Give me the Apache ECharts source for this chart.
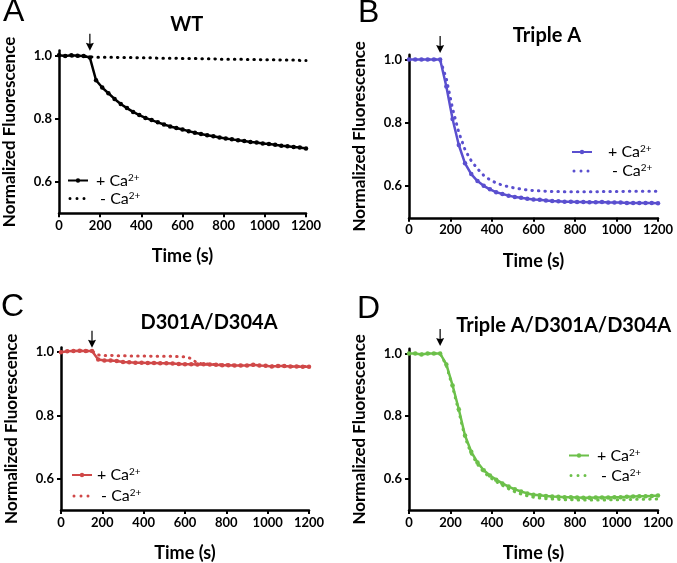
<!DOCTYPE html>
<html><head><meta charset="utf-8">
<script src="https://cdn.jsdelivr.net/npm/echarts@6/dist/echarts.min.js"></script>
<style>html,body{margin:0;padding:0;background:#fff}#c{width:677px;height:563px}</style>
</head><body><div id="c"></div>
<script>
const times = [0,30,60,90,120,150,180,210,240,270,300,330,360,390,420,450,480,510,540,570,600,630,660,690,720,750,780,810,840,870,900,930,960,990,1020,1050,1080,1110,1140,1170,1200];
const xTicks = [0,200,400,600,800,1000,1200];
const yTicks = [0.6,0.8,1.0];
const panelTitles = ['WT','Triple A','D301A/D304A','Triple A/D301A/D304A'];
const panelLetters = ['A','B','C','D'];

const wtPlus = [1.000,0.998,1.000,0.999,0.998,0.993,0.921,0.898,0.880,0.862,0.846,0.833,0.821,0.811,0.802,0.795,0.788,0.781,0.775,0.770,0.765,0.760,0.755,0.751,0.747,0.744,0.740,0.737,0.734,0.731,0.729,0.726,0.724,0.721,0.719,0.717,0.714,0.712,0.710,0.708,0.705];
const wtMinus = [1.000,0.999,0.998,0.998,0.997,0.995,0.994,0.994,0.994,0.994,0.993,0.993,0.993,0.992,0.992,0.992,0.991,0.991,0.991,0.991,0.990,0.990,0.990,0.989,0.989,0.989,0.988,0.988,0.988,0.988,0.987,0.987,0.987,0.986,0.986,0.986,0.985,0.985,0.985,0.984,0.984];
const triplePlus = [1.000,1.000,1.000,1.000,1.000,1.000,0.915,0.812,0.730,0.672,0.638,0.616,0.601,0.590,0.581,0.575,0.570,0.566,0.563,0.560,0.558,0.557,0.555,0.553,0.552,0.551,0.551,0.550,0.550,0.549,0.549,0.550,0.548,0.548,0.548,0.547,0.547,0.547,0.547,0.547,0.546];
const tripleMinus = [1.000,1.000,1.000,1.000,1.000,1.000,0.940,0.845,0.770,0.715,0.680,0.655,0.634,0.620,0.610,0.603,0.598,0.594,0.591,0.588,0.586,0.585,0.584,0.583,0.583,0.582,0.582,0.582,0.582,0.582,0.582,0.583,0.583,0.583,0.583,0.584,0.584,0.584,0.584,0.584,0.584];
const dPlus = [1.000,1.003,1.004,1.005,1.004,1.004,0.977,0.974,0.974,0.972,0.969,0.968,0.967,0.967,0.966,0.966,0.965,0.965,0.964,0.963,0.962,0.962,0.961,0.962,0.961,0.960,0.959,0.959,0.958,0.958,0.958,0.960,0.958,0.957,0.955,0.956,0.956,0.955,0.955,0.954,0.954];
const dMinus = [1.000,1.003,1.004,1.005,1.004,1.004,0.991,0.990,0.990,0.989,0.989,0.988,0.988,0.988,0.988,0.987,0.987,0.987,0.987,0.986,0.986,0.980,0.965,0.963,0.962,0.961,0.960,0.960,0.959,0.959,0.958,0.959,0.958,0.957,0.956,0.956,0.956,0.955,0.955,0.955,0.954];
const tdPlus = [1.000,1.000,0.997,1.000,1.000,1.000,0.965,0.898,0.822,0.738,0.686,0.652,0.627,0.610,0.597,0.585,0.575,0.566,0.559,0.553,0.549,0.547,0.545,0.543,0.542,0.541,0.541,0.540,0.539,0.539,0.540,0.540,0.540,0.541,0.541,0.542,0.543,0.544,0.544,0.545,0.546];
const tdMinus = [1.000,1.000,0.998,1.000,1.000,1.000,0.962,0.893,0.815,0.732,0.680,0.646,0.621,0.604,0.591,0.579,0.568,0.558,0.551,0.545,0.541,0.538,0.536,0.535,0.534,0.533,0.533,0.532,0.532,0.532,0.532,0.532,0.532,0.533,0.533,0.533,0.534,0.534,0.534,0.535,0.535];
const additionTime = 150;

const FONT = 'Lato, "Open Sans", sans-serif';
const layouts = [
  {grid:{left:59,top:50.6,width:247,height:162.7}, color:'#000000', title:[186.7,15], letter:[3,-4], legend:{left:68,top:172.5,gap:2,pad:3}, arrowOff:-13},
  {grid:{left:409,top:54.8,width:249,height:163}, color:'#5a4fcf', title:[547,26], letter:[358,-3], legend:{left:572,top:144,gap:3,pad:11}, arrowOff:-15},
  {grid:{left:61,top:347.5,width:248,height:164.8}, color:'#d04848', title:[209,313], letter:[1,291], legend:{left:72,top:467,gap:5,pad:0}, arrowOff:-13},
  {grid:{left:409,top:348.8,width:249,height:164.5}, color:'#6cc04a', title:[563.7,316], letter:[357,293], legend:{left:569,top:447.5,gap:4,pad:3}, arrowOff:-16}
];
const plusSets = [wtPlus, triplePlus, dPlus, tdPlus];
const minusSets = [wtMinus, tripleMinus, dMinus, tdMinus];
const arrowPath = 'path://M3.4,0 L4.6,0 L4.6,10 L8,9 L4,17 L0,9 L3.4,10 Z';
// legend icons: bounding corners (zero-area) + shapes
const plusIcon = 'path://M0,0 L0.01,0 L0,0.01 Z M20,8 L19.99,8 L20,7.99 Z M0,3.1 L20,3.1 L20,4.9 L0,4.9 Z M12.2,4 A2.2,2.2 0 1 1 7.8,4 A2.2,2.2 0 1 1 12.2,4 Z';
const minusIcon = 'path://M0,0 L0.01,0 L0,0.01 Z M20,8 L19.99,8 L20,7.99 Z M3.5,4 A1.5,1.5 0 1 1 0.5,4 A1.5,1.5 0 1 1 3.5,4 Z M10.5,4 A1.5,1.5 0 1 1 7.5,4 A1.5,1.5 0 1 1 10.5,4 Z M17.5,4 A1.5,1.5 0 1 1 14.5,4 A1.5,1.5 0 1 1 17.5,4 Z';

const grids=[], xAxes=[], yAxes=[], series=[], legends=[], titles=[], graphics=[];
layouts.forEach((L,i)=>{
  grids.push(Object.assign({containLabel:false}, L.grid));
  xAxes.push({type:'value', gridIndex:i, min:0, max:1200, interval:200,
    name:'Time (s)', nameLocation:'middle', nameGap:34,
    nameTextStyle:{fontFamily:FONT, fontWeight:'bold', fontSize:18, color:'#000'},
    axisLine:{show:true, onZero:false, lineStyle:{color:'#000', width:2.5}},
    axisTick:{show:true, length:4, lineStyle:{color:'#000', width:2}},
    axisLabel:{fontFamily:FONT, fontWeight:'bold', fontSize:13, color:'#000', margin:6, customValues:xTicks,
      formatter:v=>String(v)},
    splitLine:{show:false}});
  yAxes.push({type:'value', gridIndex:i, min:0.5, max:1.015,
    name:'Normalized Fluorescence', nameLocation:'middle', nameGap:41,
    nameTextStyle:{fontFamily:FONT, fontWeight:'bold', fontSize:17, color:'#000'},
    axisLine:{show:true, onZero:false, lineStyle:{color:'#000', width:2.5}},
    axisTick:{show:true, length:4, customValues:yTicks, lineStyle:{color:'#000', width:2}},
    axisLabel:{fontFamily:FONT, fontWeight:'bold', fontSize:13, color:'#000', margin:7, customValues:yTicks,
      formatter:v=>v.toFixed(1)},
    splitLine:{show:false}});
  const pName = 'p'+i+'+', mName = 'p'+i+'-';
  series.push({name:mName, type:'line', xAxisIndex:i, yAxisIndex:i,
    data: times.map((t,k)=>[t, minusSets[i][k]]), symbol:'none', z:2,
    lineStyle:{color:L.color, width:3, type:[0.5,6], cap:'round'}, itemStyle:{color:L.color}});
  series.push({name:pName, type:'line', xAxisIndex:i, yAxisIndex:i,
    data: times.map((t,k)=>[t, plusSets[i][k]]), symbol:'circle', symbolSize:4.5, showSymbol:true, z:3,
    lineStyle:{color:L.color, width:2.5}, itemStyle:{color:L.color},
    markPoint:{symbol:arrowPath, symbolSize:[8,17], symbolOffset:[0,L.arrowOff], itemStyle:{color:'#000'}, label:{show:false},
      data:[{coord:[additionTime, 1.0]}]}});
  legends.push({orient:'vertical', left:L.legend.left, top:L.legend.top, itemGap:L.legend.gap,
    itemWidth:20, itemHeight:8, selectedMode:false, padding:0,
    data:[{name:pName, icon:plusIcon}, {name:mName, icon:minusIcon}],
    formatter: n => n.endsWith('+') ? '{t|+ Ca}{s|2+}' : '{t| - Ca}{s|2+}',
    textStyle:{color:'#000', rich:{
      t:{fontFamily:FONT, fontSize:16, color:'#000', padding:[0,0,0,L.legend.pad]},
      s:{fontFamily:FONT, fontSize:10, color:'#000', verticalAlign:'top'}}}});
  titles.push({text:panelTitles[i], left:L.title[0], top:L.title[1], textAlign:'center', padding:0,
    textStyle:{fontFamily:FONT, fontWeight:'bold', fontSize:20, color:'#000'}});
  graphics.push({type:'text', left:L.letter[0], top:L.letter[1],
    style:{text:panelLetters[i], font:'normal 32px "Liberation Sans", Arial, sans-serif', fill:'#000'}});
});

const chart = echarts.init(document.getElementById('c'), null, {renderer:'canvas'});
chart.setOption({
  backgroundColor:'#fff', animation:false,
  title:titles, grid:grids, xAxis:xAxes, yAxis:yAxes, legend:legends, series:series, graphic:graphics
});
</script></body></html>
